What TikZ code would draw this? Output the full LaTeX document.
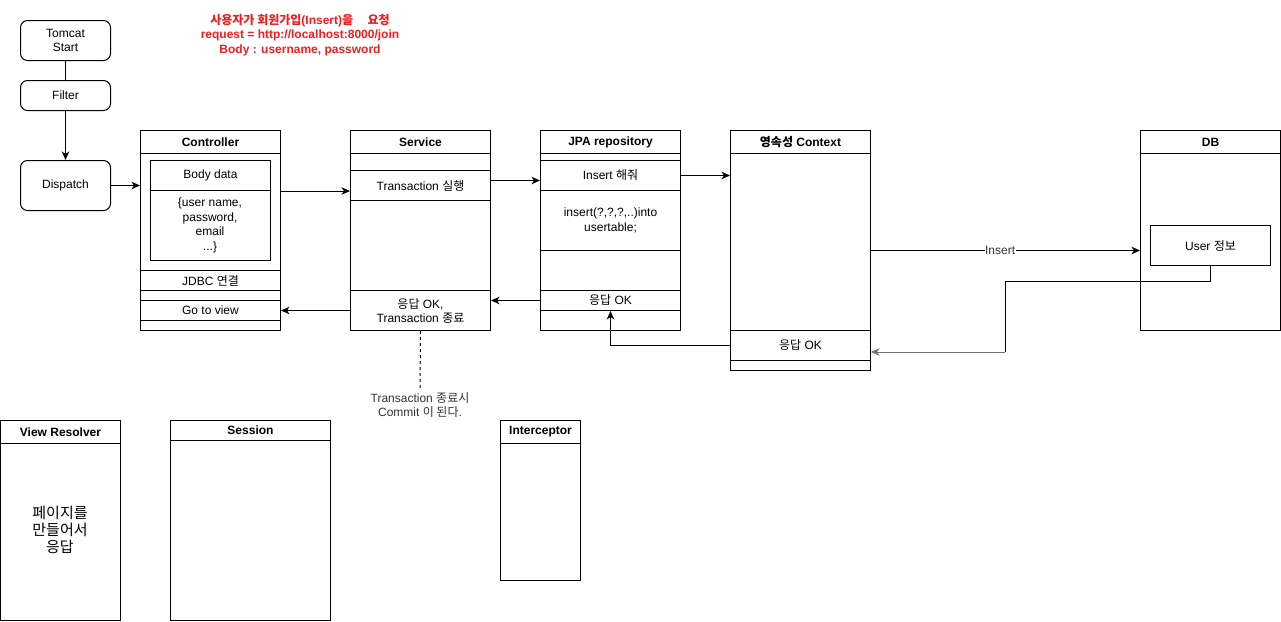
\documentclass[tikz,border=0pt]{standalone}
\usepackage{fontspec}
\setmainfont{Liberation Sans}
\newfontfamily\kr{Noto Sans CJK KR}
\usetikzlibrary{arrows.meta,calc}
\newcommand{\K}[1]{{\kr #1}}
\definecolor{redtxt}{RGB}{240,30,30}
\definecolor{graytxt}{RGB}{51,51,51}
\begin{document}
\begin{tikzpicture}[x=1pt,y=-1pt,line width=1pt,
  every node/.style={font=\fontsize{12}{14}\selectfont,inner sep=0pt,align=center},
  box/.style={draw,rectangle,anchor=north west},
  rbox/.style={draw,rectangle,rounded corners=7pt,anchor=north west},
  head/.style={box,font=\fontsize{12}{14}\selectfont\bfseries},
  arr/.style={-{Stealth[length=8.5pt,width=7.5pt,inset=2.5pt]}},
  plain/.style={draw=none,fill=none,anchor=center}]
\useasboundingbox (0,0) rectangle (1281,621);

% left column
\node[rbox,minimum width=90,minimum height=40] (tomcat) at (20,20) {Tomcat\\Start};
\node[rbox,minimum width=90,minimum height=30] (filter) at (20,80) {Filter};
\node[rbox,minimum width=90,minimum height=50] (dispatch) at (20,160) {Dispatch};

% red request note
\node[plain,font=\fontsize{12}{14.3}\selectfont\bfseries,text=redtxt] (note) at (300,35)
  {\K{사용자가 회원가입}(Insert)\K{을}\hspace{1.2em}\K{요청}\\request = http://localhost:8000/join\\Body : username, password};

% Controller
\node[box,minimum width=140,minimum height=200] (ctrl) at (140,130) {};
\node[head,minimum width=140,minimum height=23] (ctrlH) at (140,130) {Controller};
\node[box,minimum width=120,minimum height=100] (body) at (150,160) {};
\node[box,minimum width=120,minimum height=30] (bodyH) at (150,160) {Body data};
\node[plain,font=\fontsize{12}{14.5}\selectfont] (bodyT) at (210,225.5) {\{user name,\\password,\\email\\...\}};
\node[box,minimum width=140,minimum height=20] (ctrlJ) at (140,270) {JDBC \K{연결}};
\node[box,minimum width=140,minimum height=10] (ctrlE) at (140,290) {};
\node[box,minimum width=140,minimum height=20] (ctrlG) at (140,300) {Go to view};

% Service
\node[box,minimum width=140,minimum height=200] (svc) at (350,130) {};
\node[head,minimum width=140,minimum height=23] (svcH) at (350,130) {Service};
\node[box,minimum width=140,minimum height=30] (svcTx) at (350,170) {Transaction \K{실행}};
\node[box,minimum width=140,minimum height=40] (svcOK) at (350,290) {\K{응답} OK,\\Transaction \K{종료}};

% JPA repository
\node[box,minimum width=140,minimum height=200] (jpa) at (540,130) {};
\node[head,minimum width=140,minimum height=23] (jpaH) at (540,130) {JPA repository};
\node[box,minimum width=140,minimum height=30] (jpaIns) at (540,160) {Insert \K{해줘}};
\node[box,minimum width=140,minimum height=60,font=\fontsize{12}{15}\selectfont] (jpaSql) at (540,190) {insert(?,?,?,..)into\\usertable;};
\node[box,minimum width=140,minimum height=20] (jpaOK) at (540,290) {\K{응답} OK};

% Persistence context
\node[box,minimum width=140,minimum height=240] (ctx) at (730,130) {};
\node[head,minimum width=140,minimum height=23] (ctxH) at (730,130) {\K{영속성} Context};
\node[box,minimum width=140,minimum height=30] (ctxOK) at (730,330) {\K{응답} OK};

% DB
\node[box,minimum width=140,minimum height=200] (db) at (1140,130) {};
\node[head,minimum width=140,minimum height=23] (dbH) at (1140,130) {DB};
\node[box,minimum width=120,minimum height=40] (user) at (1150,225) {User \K{정보}};

% bottom boxes
\node[box,minimum width=120,minimum height=200] (vr) at (0,420) {};
\node[head,minimum width=120,minimum height=23] (vrH) at (0,420) {View Resolver};
\node[plain,font=\fontsize{15}{17}\selectfont\kr] (vrT) at (60,530) {페이지를\\만들어서\\응답};
\node[box,minimum width=160,minimum height=200] (sess) at (170,420) {};
\node[head,minimum width=160,minimum height=20] (sessH) at (170,420) {Session};
\node[box,minimum width=80,minimum height=160] (icp) at (500,420) {};
\node[head,minimum width=80,minimum height=23] (icpH) at (500,420) {Interceptor};

% commit label
\node[plain,font=\fontsize{12}{14}\selectfont,text=graytxt] (commit) at (420,405)
  {Transaction \K{종료시}\\Commit \K{이 된다}.};

% connectors
\draw (tomcat.south) -- (filter.north);
\draw[arr] (filter.south) -- (dispatch.north);
\draw[arr] (dispatch.east) -- (dispatch.east -| ctrl.west);
\draw[arr] (bodyH.south -| ctrl.east) -- (bodyH.south -| svc.west);
\draw[arr] ([yshift=5pt]svcTx.east) -- ([yshift=5pt]svcTx.east -| jpa.west);
\draw[arr] (jpaIns.east) -- (jpaIns.east -| ctx.west);
\draw[arr] ([yshift=-5pt]user.west -| ctx.east) -- node[pos=0.48,fill=white,inner sep=0.5pt,font=\fontsize{12}{14}\selectfont,text=graytxt] {Insert} ([yshift=-5pt]user.west -| db.west);
\coordinate (dbturn) at (1005,352);
\draw (user.south) -- ++(0,15) -| (dbturn);
\draw[arr,draw=black!55,fill=black!70] (dbturn) -- (dbturn -| ctx.east);
\draw[arr] (ctxOK.west) -| (jpaOK.south);
\draw[arr] (jpaOK.west) -- (jpaOK.west -| svc.east);
\draw[arr] (svcOK.west) -- (svcOK.west -| ctrl.east);
\draw[dash pattern=on 3pt off 3pt] (svc.south) -- ([yshift=1pt]commit.north);
\end{tikzpicture}
\end{document}
